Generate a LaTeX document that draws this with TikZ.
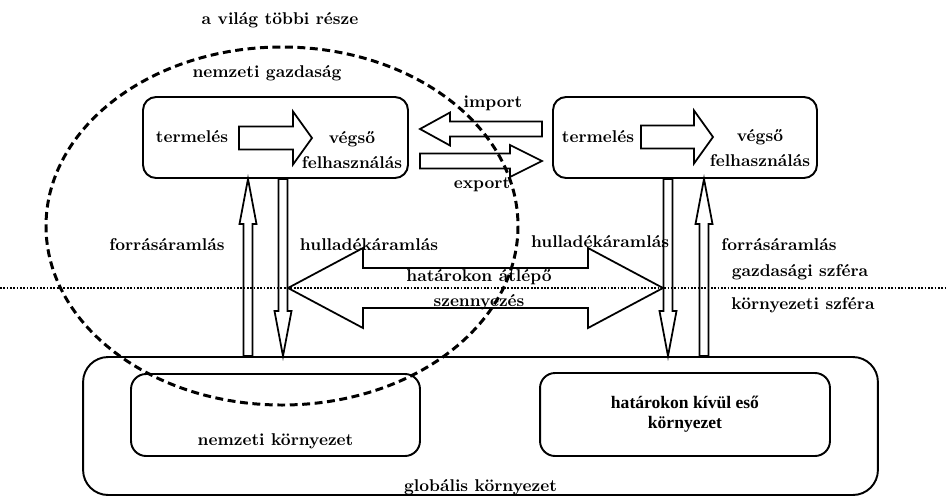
\documentclass[tikz,border=0pt]{standalone}
\usepackage{fontspec}
\newfontfamily\timesfont{Liberation Serif}
\usetikzlibrary{calc,positioning}

% hollow block arrow: tail, tip, shaft half width, head half width, head length
\newcommand{\blockarrow}[5]{%
  \coordinate (hb) at ($(#2)!#5!(#1)$);
  \draw[blockarrow] ($(#1)!#3!90:(#2)$) -- ($(hb)!#3!-90:(#1)$) -- ($(hb)!#4!-90:(#1)$)
    -- (#2) -- ($(hb)!#4!90:(#1)$) -- ($(hb)!#3!90:(#1)$) -- ($(#1)!#3!-90:(#2)$) -- cycle;}
% hollow double arrow: tip, tip, shaft half width, head half width, head length
\newcommand{\doubleblockarrow}[5]{%
  \coordinate (ha) at ($(#1)!#5!(#2)$);
  \coordinate (hb) at ($(#2)!#5!(#1)$);
  \draw[blockarrow] (#1) -- ($(ha)!#4!90:(#2)$) -- ($(ha)!#3!90:(#2)$) -- ($(hb)!#3!-90:(#1)$)
    -- ($(hb)!#4!-90:(#1)$) -- (#2) -- ($(hb)!#4!90:(#1)$) -- ($(hb)!#3!90:(#1)$)
    -- ($(ha)!#3!-90:(#2)$) -- ($(ha)!#4!-90:(#2)$) -- cycle;}

\begin{document}
\begin{tikzpicture}[x=0.02cm,y=-0.02cm,
    every node/.style={font=\fontsize{9.7}{14.5}\selectfont\bfseries},
    box/.style={draw,line width=1.1pt,rounded corners=0.26cm},
    blockarrow/.style={draw,line width=1pt,line join=miter},
    hatar/.style={line width=1.7pt,dash pattern=on 4.5pt off 2.6pt},
    szfera/.style={line width=1.1pt,dash pattern=on 1pt off 0.9pt}]
    \useasboundingbox (0,0) rectangle (947,498);
    % boxes
    \node[box,minimum width=5.3cm,minimum height=1.62cm] (nemzgazd) at (275.5,137.5) {};
    \node[box,minimum width=5.28cm,minimum height=1.62cm] (kulgazd) at (685,137.5) {};
    \node[box,rounded corners=0.5cm,minimum width=15.9cm,minimum height=2.76cm] (glob) at (480.5,426) {};
    \node[box,rounded corners=0.3cm,minimum width=5.78cm,minimum height=1.64cm] (nemzkorny) at (275.5,415) {};
    \node[box,rounded corners=0.3cm,minimum width=5.8cm,minimum height=1.66cm,align=center,
          font=\fontsize{10}{11.3}\selectfont\timesfont\bfseries] (kulkorny) at (685,414.5) {határokon kívül eső\\környezet};
    % texts
    \node (vilag) at (280,20) {a világ többi része};
    \node (gazd) at (267,73) {nemzeti gazdaság};
    \node (term1) at (192,137) {termelés};
    \node[align=center] (vegso1) at (352,150) {végső\\felhasználás};
    \node (term2) at (598,137) {termelés};
    \node[align=center] (vegso2) at (760,148) {végső\\felhasználás};
    \node (import) at (493,103) {import};
    \node (export) at (482,185) {export};
    \node (forras1) at (167,245) {forrásáramlás};
    \node (hull1) at (369,245) {hulladékáramlás};
    \node (hull2) at (600,242) {hulladékáramlás};
    \node (forras2) at (779,245) {forrásáramlás};
    \node[align=center,font=\fontsize{9.7}{14.2}\selectfont\bfseries] (szenny) at (479,289.5) {határokon átlépő\\szennyezés};
    \node (gszf) at (800,272) {gazdasági szféra};
    \node (kszf) at (803,305) {környezeti szféra};
    \node (nkt) at ([yshift=0.32cm]nemzkorny.south) {nemzeti környezet};
    \node (gkt) at ([yshift=0.17cm]glob.south) {globális környezet};
    % national economy and the border line
    \draw[hatar] (282,226) ellipse [x radius=236,y radius=179];
    \draw[szfera] (0,288) -- (947,288);
    % arrows inside the boxes
    \coordinate (nt1) at (239,138);
    \coordinate (nv1) at (312,138);
    \coordinate (nt2) at (641,137);
    \coordinate (nv2) at (713,137);
    \blockarrow{nt1}{nv1}{0.23cm}{0.53cm}{0.38cm}
    \blockarrow{nt2}{nv2}{0.23cm}{0.53cm}{0.38cm}
    % import / export
    \coordinate (imp1) at (542,129);
    \coordinate (imp2) at (420,129);
    \coordinate (exp1) at (420,161);
    \coordinate (exp2) at (542,161);
    \blockarrow{imp1}{imp2}{0.15cm}{0.33cm}{0.6cm}
    \blockarrow{exp1}{exp2}{0.15cm}{0.32cm}{0.64cm}
    % resource and waste flows
    \coordinate (lf) at ($(nemzgazd.south)+(-27.5,0)$);
    \coordinate (lh) at ($(nemzgazd.south)+(7.5,0)$);
    \coordinate (rh) at ($(kulgazd.south)+(-17,0)$);
    \coordinate (rf) at ($(kulgazd.south)+(19,0)$);
    \coordinate (lfb) at (lf |- glob.north);
    \coordinate (lhb) at (lh |- glob.north);
    \coordinate (rhb) at (rh |- glob.north);
    \coordinate (rfb) at (rf |- glob.north);
    \blockarrow{lfb}{lf}{0.09cm}{0.17cm}{0.9cm}
    \blockarrow{lh}{lhb}{0.09cm}{0.17cm}{0.9cm}
    \blockarrow{rh}{rhb}{0.09cm}{0.17cm}{0.9cm}
    \blockarrow{rfb}{rf}{0.09cm}{0.17cm}{0.9cm}
    % pollution crossing the borders
    \coordinate (szl) at (288,288);
    \coordinate (szr) at (663,288);
    \doubleblockarrow{szl}{szr}{0.4cm}{0.8cm}{1.5cm}
\end{tikzpicture}
\end{document}
